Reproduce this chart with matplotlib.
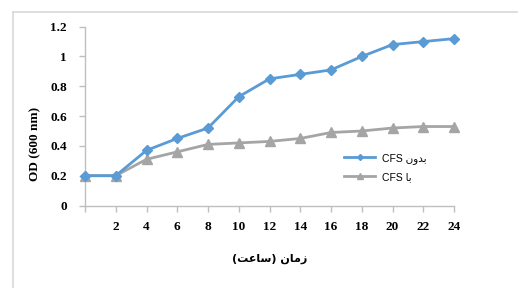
import matplotlib
matplotlib.use("Agg")
import matplotlib.pyplot as plt
from matplotlib.lines import Line2D

# Data
hours = [0, 2, 4, 6, 8, 10, 12, 14, 16, 18, 20, 22, 24]
tick_labels = ["", "2", "4", "6", "8", "10", "12", "14", "16", "18", "20", "22", "24"]
without_cfs = [0.20, 0.20, 0.37, 0.45, 0.52, 0.73, 0.85, 0.88, 0.91, 1.00, 1.08, 1.10, 1.12]
with_cfs = [0.20, 0.20, 0.31, 0.36, 0.41, 0.42, 0.43, 0.45, 0.49, 0.50, 0.52, 0.53, 0.53]

# Arabic labels in visual (pre-shaped) order
label_without = "CFS " + "\uFEE5\uFEED\uFEAA\uFE91"   # بدون CFS
label_with = "CFS " + "\uFE8E\uFE91"                   # با CFS
xlabel = "(" + "\uFE96\uFECB\uFE8E\uFEB3" + ") " + "\uFEE5\uFE8E\uFEE3\uFEAF"  # زمان (ساعت)
ylabel = "OD (600 nm)"

W, H = 518, 288
fig = plt.figure(figsize=(W / 100, H / 100), dpi=100)
fig.patch.set_facecolor("white")

# chart frame
fig.add_artist(Line2D([13 / W, 1.0], [1 - 12 / H, 1 - 12 / H], color="#d9d9d9", lw=1.2))
fig.add_artist(Line2D([13 / W, 13 / W], [0.0, 1 - 12 / H], color="#d9d9d9", lw=1.2))

x0, x1 = 85, 454
y0, y1 = 205.5, 26.7
ax = fig.add_axes([x0 / W, 1 - y0 / H, (x1 - x0) / W, (y0 - y1) / H])

idx = list(range(len(hours)))
blue = "#5B9BD5"
gray = "#A5A5A5"
ax.plot(idx, without_cfs, color=blue, lw=2, marker="D", ms=5, clip_on=False,
        label=label_without, zorder=3)
ax.plot(idx, with_cfs, color=gray, lw=2, marker="^", ms=6.5, clip_on=False,
        label=label_with, zorder=2)

ax.set_xlim(0, len(hours) - 1)
ax.set_ylim(0, 1.2)
ax.set_yticks([0, 0.2, 0.4, 0.6, 0.8, 1.0, 1.2])
ax.set_yticklabels(["0", "0.2", "0.4", "0.6", "0.8", "1", "1.2"])
ax.set_xticks(idx)
ax.set_xticklabels(tick_labels)

for s in ["top", "right"]:
    ax.spines[s].set_visible(False)
for s in ["left", "bottom"]:
    ax.spines[s].set_color("#bfbfbf")
    ax.spines[s].set_linewidth(1)

ax.tick_params(axis="both", direction="out", length=4, color="#bfbfbf", width=1)
ax.tick_params(axis="y", pad=9)
ax.tick_params(axis="x", pad=7)
for t in ax.get_xticklabels() + ax.get_yticklabels():
    t.set_fontfamily("Liberation Serif")
    t.set_fontweight("bold")
    t.set_fontsize(9.5)

fig.text(270 / W, 1 - 259 / H, xlabel, ha="center", va="center",
         family=["DejaVu Sans"], fontweight="bold", fontsize=8)
fig.text(35 / W, 1 - 144 / H, ylabel, ha="center", va="center", rotation=90,
         family=["Liberation Serif"], fontweight="bold", fontsize=9.5)

leg = ax.legend(loc="upper left", bbox_to_anchor=((344 - x0) / (x1 - x0), (y0 - 153) / (y0 - y1)),
                frameon=False, handlelength=3.0, handletextpad=0.65, labelspacing=0.75,
                markerscale=0.6,
                prop={"family": ["Liberation Sans", "DejaVu Sans"], "size": 7.5},
                borderpad=0, borderaxespad=0)
for l in leg.get_lines():
    l.set_linewidth(2)

fig.savefig("out.png", dpi=100, facecolor="white")
